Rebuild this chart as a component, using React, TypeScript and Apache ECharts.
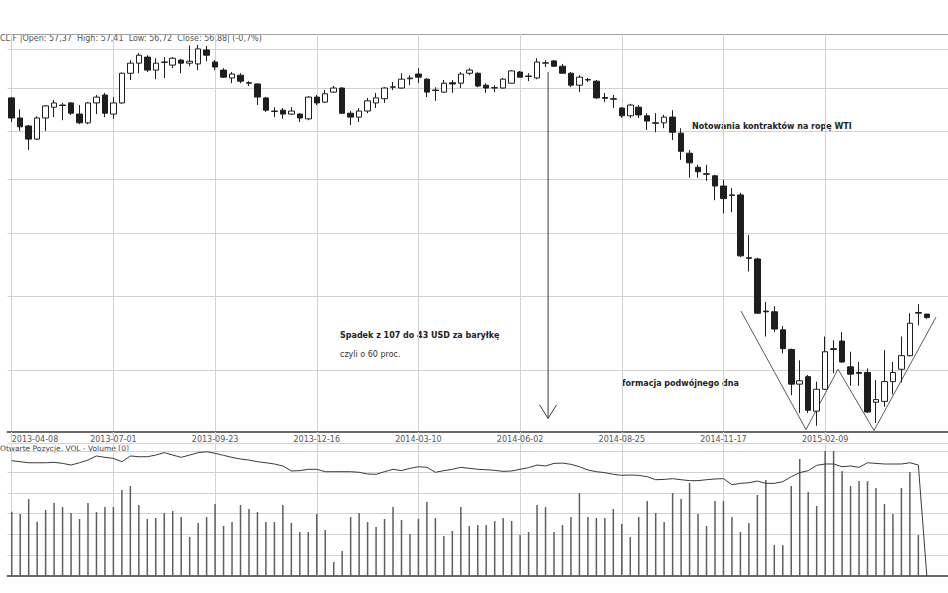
import React, { useEffect, useRef } from "react";
import * as echarts from "echarts";

// ---- data ----
const START_UTC = Date.UTC(2013, 3, 8);
const N_CANDLES = 109;
const N_SLOTS = 111; // two empty weeks after the last candle

const opens = [
  97.6, 92.9, 91.1, 88.2, 92.9, 95.4, 95.9, 96.4, 93.8, 91.8,
  96.4, 98.3, 93.8, 96.4, 103.7, 106.3, 107.9, 104.5, 106.5, 105.8,
  107.1, 106.3, 106.1, 109.8, 106.6, 104.5, 102.5, 103.2, 101.3, 101.0,
  97.6, 94.5, 94.7, 93.8, 93.8, 92.7, 97.8, 96.6, 99.0, 100.0,
  94.0, 93.1, 94.5, 96.4, 97.4, 100.2, 100.0, 102.3, 103.5, 102.2,
  99.5, 99.0, 101.3, 101.2, 103.7, 103.7, 100.7, 100.0, 100.0, 101.2,
  104.0, 103.0, 102.5, 106.3, 106.9, 105.5, 103.7, 100.7, 102.0, 101.7,
  97.7, 97.4, 95.2, 93.4, 95.4, 93.4, 91.8, 91.8, 93.1, 89.5,
  85.2, 82.3, 81.0, 80.6, 78.6, 76.8, 76.9, 65.9, 65.7, 57.8,
  57.7, 55.2, 52.6, 48.3, 49.2, 45.2, 47.7, 52.7, 53.7, 50.4,
  49.7, 49.7, 46.2, 46.3, 48.6, 50.1, 51.8, 57.5, 57.37,
];
const closes = [
  92.9, 90.9, 88.2, 92.9, 95.7, 96.4, 95.8, 94.0, 91.8, 96.4,
  97.8, 94.0, 96.4, 103.7, 106.3, 108.4, 104.5, 106.3, 106.6, 107.6,
  106.3, 106.8, 110.1, 108.4, 105.3, 102.7, 103.5, 101.7, 101.2, 97.8,
  94.7, 94.4, 93.8, 94.5, 92.9, 97.8, 96.4, 98.6, 100.0, 94.0,
  93.1, 94.5, 96.9, 97.6, 100.0, 100.3, 102.2, 102.5, 102.7, 99.0,
  99.4, 101.2, 101.0, 103.5, 104.5, 100.5, 100.0, 100.1, 102.2, 104.3,
  102.7, 102.9, 106.6, 106.4, 105.5, 103.7, 100.7, 102.7, 102.1, 97.6,
  97.5, 97.3, 93.4, 95.9, 93.6, 92.2, 91.7, 93.1, 89.7, 85.6,
  83.2, 81.4, 80.9, 78.6, 76.2, 76.9, 66.2, 65.8, 57.5, 57.7,
  55.3, 52.7, 48.3, 48.7, 45.3, 47.7, 52.3, 52.6, 51.0, 49.5,
  49.6, 45.1, 46.5, 48.6, 49.7, 51.8, 56.1, 57.6, 56.88,
];
const lows = [
  92.0, 90.0, 85.9, 88.0, 90.0, 93.1, 92.4, 93.6, 91.5, 91.5,
  93.8, 93.1, 92.7, 96.2, 102.0, 103.7, 104.0, 102.2, 102.5, 105.0,
  103.7, 105.5, 104.5, 106.8, 104.5, 102.5, 101.2, 101.2, 100.5, 95.9,
  94.3, 93.1, 92.7, 93.6, 92.0, 92.4, 95.9, 96.4, 98.8, 93.8,
  91.3, 92.0, 94.0, 95.2, 96.4, 99.5, 99.8, 100.7, 101.2, 97.8,
  96.9, 98.8, 98.8, 100.0, 103.2, 100.2, 98.8, 99.0, 99.8, 101.2,
  102.7, 101.7, 102.2, 105.3, 105.3, 103.7, 100.2, 99.0, 101.5, 97.4,
  96.6, 95.2, 92.9, 92.9, 92.9, 90.2, 89.7, 90.6, 88.0, 83.8,
  80.2, 80.2, 79.6, 75.9, 73.5, 73.7, 66.0, 63.7, 57.4, 54.3,
  54.9, 52.1, 47.0, 45.0, 45.0, 43.6, 47.6, 49.6, 50.9, 48.1,
  48.1, 45.0, 43.9, 45.7, 47.1, 48.5, 51.7, 55.8, 56.72,
];
const highs = [
  97.8, 94.9, 91.3, 93.3, 95.9, 97.1, 96.4, 96.6, 95.9, 96.6,
  98.3, 98.8, 97.8, 103.9, 107.1, 109.0, 108.4, 107.6, 107.9, 107.9,
  107.4, 111.0, 111.2, 110.9, 107.1, 105.0, 104.0, 103.7, 101.7, 101.2,
  97.8, 95.4, 95.2, 95.4, 94.0, 98.0, 98.3, 99.5, 100.5, 100.2,
  94.5, 95.2, 97.6, 98.8, 100.2, 101.5, 103.7, 103.2, 105.0, 102.5,
  100.2, 102.0, 102.0, 104.0, 105.0, 103.9, 101.2, 100.7, 102.5, 104.5,
  104.3, 103.7, 107.6, 107.1, 107.1, 106.1, 104.0, 103.2, 102.5, 102.0,
  98.8, 98.3, 95.4, 96.2, 95.9, 94.0, 94.0, 93.6, 94.7, 90.6,
  85.9, 82.8, 82.8, 80.8, 79.8, 78.2, 77.3, 69.7, 65.9, 59.1,
  58.5, 55.7, 52.7, 51.2, 49.4, 48.6, 54.3, 53.8, 54.9, 52.3,
  51.0, 50.2, 48.8, 52.5, 51.0, 54.3, 57.5, 58.8, 57.41,
];
const volume = [
  618, 596, 740, 522, 635, 702, 663, 606, 548, 702,
  615, 663, 663, 827, 865, 683, 548, 558, 606, 625,
  567, 375, 510, 567, 692, 481, 519, 683, 644, 615,
  519, 519, 683, 510, 423, 423, 596, 442, 135, 240,
  567, 606, 519, 471, 548, 663, 538, 404, 548, 712,
  558, 385, 433, 663, 481, 490, 490, 529, 558, 529,
  394, 423, 683, 663, 423, 490, 567, 798, 567, 558,
  558, 644, 500, 375, 567, 721, 606, 519, 798, 740,
  894, 596, 481, 721, 721, 567, 423, 510, 779, 923,
  298, 298, 865, 1125, 808, 673, 1202, 1202, 1010, 865,
  913, 913, 846, 692, 596, 846, 1000, 394, 0,
];
const openInterest = [
  1109, 1099, 1089, 1089, 1089, 1093, 1083, 1067, 1089, 1115,
  1154, 1141, 1131, 1099, 1154, 1147, 1147, 1163, 1186, 1163,
  1141, 1163, 1186, 1195, 1180, 1160, 1141, 1125, 1115, 1099,
  1089, 1077, 1058, 1010, 1013, 1026, 1026, 1003, 1003, 1003,
  1003, 997, 981, 978, 1003, 1026, 1013, 1035, 1051, 1045,
  997, 1013, 1026, 1045, 1035, 1026, 1022, 1016, 1006, 1010,
  1026, 1042, 1067, 1058, 1083, 1086, 1074, 1051, 1019, 1003,
  994, 978, 968, 971, 968, 955, 926, 929, 936, 926,
  917, 917, 926, 933, 936, 878, 891, 897, 913, 891,
  891, 907, 955, 994, 1013, 1064, 1077, 1077, 1051, 1058,
  1045, 1089, 1083, 1077, 1077, 1077, 1089, 1067, 0,
];

const priceGridLevels = [50, 60, 70, 80, 90, 100, 110];
const labelStep = 12;
const lastLabelIndex = 96;

// annotation geometry in data units (week index, price)
const vFormation = [
  [86.07, 57.8], [93.74, 43.2], [97.52, 50.1], [101.77, 43.1], [109.08, 56.95],
];
const arrowShaft = [[63.3, 104.0], [63.3, 44.4]];
const arrowHead = [[62.3, 45.9], [63.3, 44.4], [64.3, 45.9]];

const headerText = "CL.F |Open: 57,37  High: 57,41  Low: 56,72  Close: 56,88| (-0,7%)";
const volumeTitle = "Otwarte Pozycje, VOL - Volume [0]";

// ---- derived ----
const categories: string[] = [];
for (let i = 0; i < N_SLOTS; i++) {
  categories.push(new Date(START_UTC + i * 7 * 86400000).toISOString().slice(0, 10));
}
const candleData = opens.slice(0, N_CANDLES).map((o, i) => [o, closes[i], lows[i], highs[i]]);
const labelIdx: number[] = [];
for (let i = 0; i <= lastLabelIndex; i += labelStep) labelIdx.push(i);
const showLabel = (idx: number) => idx % labelStep === 0 && idx <= lastLabelIndex;

const FONT = "DejaVu Sans";
const GRID_COLOR = "#d2d2d2";

function buildOption(): any {
  const vLines = labelIdx.map((i) => ({ xAxis: i }));
  return {
    animation: false,
    backgroundColor: "#ffffff",
    grid: [
      { left: 7.5, right: 0, top: 34, height: 398, outerBoundsMode: "none", containLabel: false },
      { left: 7.5, right: 0, top: 443, height: 133, outerBoundsMode: "none", containLabel: false },
    ],
    xAxis: [
      {
        type: "category",
        gridIndex: 0,
        data: categories,
        boundaryGap: true,
        position: "bottom",
        z: 1,
        axisLine: { show: true, lineStyle: { color: "#6a6a6a", width: 2 } },
        axisTick: {
          show: true,
          alignWithLabel: true,
          interval: showLabel,
          length: 10,
          lineStyle: { color: GRID_COLOR, width: 1 },
        },
        splitLine: { show: false },
        axisLabel: {
          interval: showLabel,
          alignMinLabel: "left",
          fontSize: 8,
          fontFamily: FONT,
          color: "#555",
          margin: 3,
        },
      },
      {
        type: "value",
        gridIndex: 0,
        min: -0.5,
        max: N_SLOTS - 0.5,
        position: "top",
        axisLine: { show: true, onZero: false, lineStyle: { color: "#a0a0a0", width: 1 } },
        axisTick: { show: false },
        axisLabel: { show: false },
        splitLine: { show: false },
      },
      {
        type: "category",
        gridIndex: 1,
        data: categories,
        boundaryGap: true,
        position: "top",
        axisLine: { show: true, lineStyle: { color: "#6a6a6a", width: 2 } },
        axisTick: { show: false },
        axisLabel: { show: false },
        splitLine: { show: false },
      },
      {
        type: "value",
        gridIndex: 1,
        min: -0.5,
        max: N_SLOTS - 0.5,
        show: false,
      },
    ],
    yAxis: [
      {
        type: "log",
        logBase: 10,
        gridIndex: 0,
        min: 42.94,
        max: 114.2,
        axisLine: { show: false },
        axisTick: { show: false },
        axisLabel: { show: false },
        splitLine: { show: false },
      },
      {
        type: "value",
        gridIndex: 1,
        min: 0,
        max: 1279,
        interval: 200,
        axisLine: { show: false },
        axisTick: { show: false },
        axisLabel: { show: false },
        splitLine: { show: true, lineStyle: { color: GRID_COLOR, width: 1 } },
      },
    ],
    series: [
      {
        name: "CL.F",
        type: "candlestick",
        xAxisIndex: 0,
        yAxisIndex: 0,
        data: candleData,
        barWidth: 6,
        z: 3,
        itemStyle: {
          color: "#ffffff",
          color0: "#1e1e1e",
          borderColor: "#1e1e1e",
          borderColor0: "#1e1e1e",
          borderWidth: 1,
        },
      },
      {
        name: "formacja",
        type: "line",
        xAxisIndex: 1,
        yAxisIndex: 0,
        data: vFormation,
        symbol: "none",
        silent: true,
        z: 2,
        lineStyle: { color: "#5a5a5a", width: 1 },
        markLine: {
          silent: true,
          z: 1,
          symbol: ["none", "none"],
          label: { show: false },
          lineStyle: { color: GRID_COLOR, width: 1, type: "solid" },
          data: [...priceGridLevels.map((v) => ({ yAxis: v })), ...vLines],
        },
      },
      {
        name: "arrow",
        type: "line",
        xAxisIndex: 1,
        yAxisIndex: 0,
        data: arrowShaft,
        symbol: "none",
        silent: true,
        z: 4,
        lineStyle: { color: "#3a3a3a", width: 1 },
      },
      {
        name: "arrowHead",
        type: "line",
        xAxisIndex: 1,
        yAxisIndex: 0,
        data: arrowHead,
        symbol: "none",
        silent: true,
        z: 4,
        lineStyle: { color: "#3a3a3a", width: 1 },
      },
      {
        name: "VOL",
        type: "bar",
        xAxisIndex: 2,
        yAxisIndex: 1,
        data: volume,
        barWidth: 1.5,
        z: 2,
        itemStyle: { color: "#5e5e5e" },
      },
      {
        name: "Otwarte Pozycje",
        type: "line",
        xAxisIndex: 3,
        yAxisIndex: 1,
        data: openInterest.map((v, i) => [i, v]),
        symbol: "none",
        z: 3,
        lineStyle: { color: "#3a3a3a", width: 1 },
        markLine: {
          silent: true,
          z: 1,
          symbol: ["none", "none"],
          label: { show: false },
          lineStyle: { color: GRID_COLOR, width: 1, type: "solid" },
          data: vLines,
        },
      },
    ],
    graphic: [
      {
        type: "text",
        x: 0,
        y: 38,
        silent: true,
        style: { text: headerText, fontSize: 8, fontFamily: FONT, fill: "#555", verticalAlign: "middle" },
      },
      {
        type: "text",
        x: 0,
        y: 448,
        silent: true,
        style: { text: volumeTitle, fontSize: 7.5, fontFamily: FONT, fill: "#444", verticalAlign: "middle" },
      },
      {
        type: "text",
        x: 692,
        y: 126,
        silent: true,
        style: {
          text: "Notowania kontraktów na ropę WTI",
          fontSize: 8,
          fontWeight: "bold",
          fontFamily: FONT,
          fill: "#222",
          verticalAlign: "middle",
        },
      },
      {
        type: "text",
        x: 340,
        y: 335,
        silent: true,
        style: {
          text: "Spadek z 107 do 43 USD za baryłkę",
          fontSize: 8,
          fontWeight: "bold",
          fontFamily: FONT,
          fill: "#222",
          verticalAlign: "middle",
        },
      },
      {
        type: "text",
        x: 340,
        y: 354,
        silent: true,
        style: {
          text: "czyli o 60 proc.",
          fontSize: 8,
          fontFamily: FONT,
          fill: "#333",
          verticalAlign: "middle",
        },
      },
      {
        type: "text",
        x: 622,
        y: 383.5,
        silent: true,
        style: {
          text: "formacja podwójnego dna",
          fontSize: 8,
          fontWeight: "bold",
          fontFamily: FONT,
          fill: "#222",
          verticalAlign: "middle",
        },
      },
    ],
  };
}

export default function App() {
  const ref = useRef<HTMLDivElement>(null);
  useEffect(() => {
    if (!ref.current) return;
    const chart = echarts.init(ref.current, undefined, { renderer: "svg" });
    chart.setOption(buildOption());
    return () => {
      chart.dispose();
    };
  }, []);
  return (
    <div
      ref={ref}
      style={{ position: "absolute", left: 0, top: 0, width: 948, height: 593, background: "#fff" }}
    />
  );
}
